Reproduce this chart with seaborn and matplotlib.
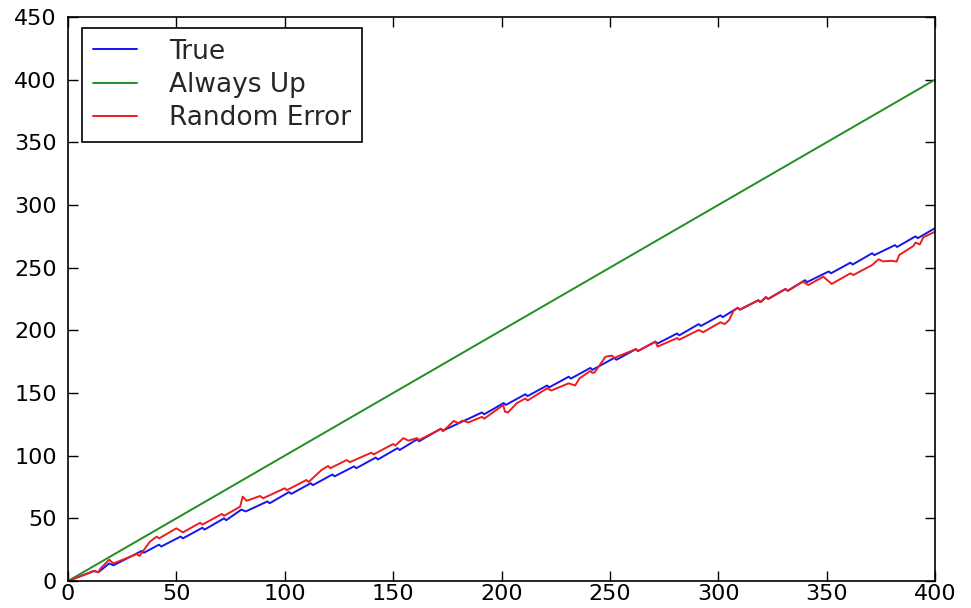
import matplotlib
matplotlib.use("Agg")
import matplotlib.pyplot as plt
import seaborn as sns
import pandas as pd

# ---- data ----
always_x = [0, 400]
always_y = [0, 400]

true_x = [0, 12, 14, 19, 21, 34, 35, 42, 43, 52, 53, 62, 63, 72, 73, 80, 82,
          92, 93, 102, 103, 112, 113, 122, 123, 132, 133, 142, 143, 152, 153,
          161, 162, 172, 173, 191, 192, 201, 202, 211, 212, 221, 222, 231, 232,
          241, 242, 252, 253, 262, 263, 271, 272, 281, 282, 291, 292, 301, 302,
          309, 310, 318.5, 319.5, 322, 323, 331, 332, 340, 341, 351, 352, 361,
          362, 371, 372, 381.5, 382.5, 391, 392, 400]
true_y = [0, 8, 7, 14, 12.5, 24, 22.5, 29, 27.5, 35.5, 34, 42.5, 41, 50, 48.5,
          57, 55.5, 63.5, 62, 71, 69.5, 78, 76.5, 85, 83.5, 91.5, 90, 98.5, 97,
          106, 104.5, 113, 111.5, 121.5, 120, 134.5, 133, 142, 140.5, 149,
          147.5, 156, 154.5, 163, 161.5, 170, 168.5, 178, 176.5, 185, 183.5,
          191, 189.5, 197.5, 196, 205, 203.5, 212, 210.5, 218, 216.5, 224,
          222.5, 226.5, 225, 233, 231.5, 240, 238.5, 247, 245.5, 254, 252.5,
          261.5, 260, 268, 266.5, 275, 273.5, 281.5]

rand_x = [0, 12, 14, 15, 19, 21, 31.7, 33, 37.8, 40.9, 42, 50, 53, 61, 62, 71,
          72, 79.4, 80.6, 82.4, 88.6, 90, 100, 101, 110, 111, 117, 120, 121,
          128.6, 130, 140, 141, 150, 151, 154.7, 157, 161, 162, 172, 173, 178,
          180, 182, 184.7, 191, 192, 200.8, 201.6, 203, 207, 211, 212, 221,
          223, 231, 234, 236, 241, 242, 243, 248, 251, 252, 262, 263, 271, 272,
          281, 282, 291, 293, 301, 303, 305, 307, 309, 310, 318.5, 319.5, 322,
          323, 331, 332, 339, 341.6, 348.5, 352.3, 361, 362.3, 371, 374, 376,
          380, 382.3, 383.5, 390, 391, 393, 394.6, 400]
rand_y = [0, 8, 7, 10, 17, 14, 21.5, 20, 31.4, 35.4, 34, 42, 38.8, 46.5, 45,
          53.5, 52, 59.3, 67.3, 64, 67.8, 66, 74, 72.5, 80.6, 79, 88.6, 91.8,
          90, 96.5, 94.8, 102.4, 101, 109.3, 108, 114, 112, 114, 112.5, 121.3,
          119.5, 127.7, 126, 128, 126.5, 131, 129.5, 140.4, 135.1, 134.5,
          141.8, 145.7, 144, 153.7, 152, 157.7, 156, 161.7, 167.6, 166, 166.5,
          179, 179.8, 178, 185, 183.5, 191, 187, 193.8, 192.5, 200.3, 198.5,
          206.4, 205, 208.2, 215.4, 218, 216.5, 224, 222.5, 226.5, 225, 233,
          231.5, 238.8, 236.2, 242.8, 237, 245.5, 244.1, 252.1, 256.7, 255,
          255.5, 254.8, 260.1, 267.3, 270, 268.5, 274.2, 278.7]

series_names = ["True", "Always Up", "Random Error"]
colors = ["#1515ee", "#1f8f1f", "#ee1c1c"]

# ---- plot ----
sns.set_style("ticks")
plt.rcParams["font.family"] = ["DejaVu Sans"]

fig = plt.figure(figsize=(9.71, 6.08), dpi=100)
ax = fig.add_axes([68 / 971, 1 - 581 / 608, 867 / 971, 564 / 608])

data = [(true_x, true_y), (always_x, always_y), (rand_x, rand_y)]
for (xs, ys), name, c in zip(data, series_names, colors):
    df = pd.DataFrame({"x": xs, "y": ys})
    sns.lineplot(data=df, x="x", y="y", ax=ax, color=c, label=name,
                 linewidth=1.4, sort=False, estimator=None)

ax.set_xlim(0, 400)
ax.set_ylim(0, 450)
ax.set_xticks(range(0, 401, 50))
ax.set_yticks(range(0, 451, 50))
ax.set_xlabel("")
ax.set_ylabel("")
ax.tick_params(direction="in", length=7, width=1, top=True, right=True,
               labelsize=16, colors="black", pad=2)
ax.tick_params(axis="y", pad=8)
for s in ax.spines.values():
    s.set_visible(True)
    s.set_color("black")
    s.set_linewidth(1.2)

leg = ax.legend(loc="upper left", bbox_to_anchor=(14 / 867, 1 - 11 / 564),
                borderaxespad=0, fontsize=19, frameon=True, fancybox=False,
                handlelength=1.7, handletextpad=1.2, labelspacing=0.28,
                borderpad=0.4)
leg.get_frame().set_edgecolor("black")
leg.get_frame().set_linewidth(1.2)
leg.get_frame().set_alpha(1)

fig.savefig("out.png", dpi=100)
